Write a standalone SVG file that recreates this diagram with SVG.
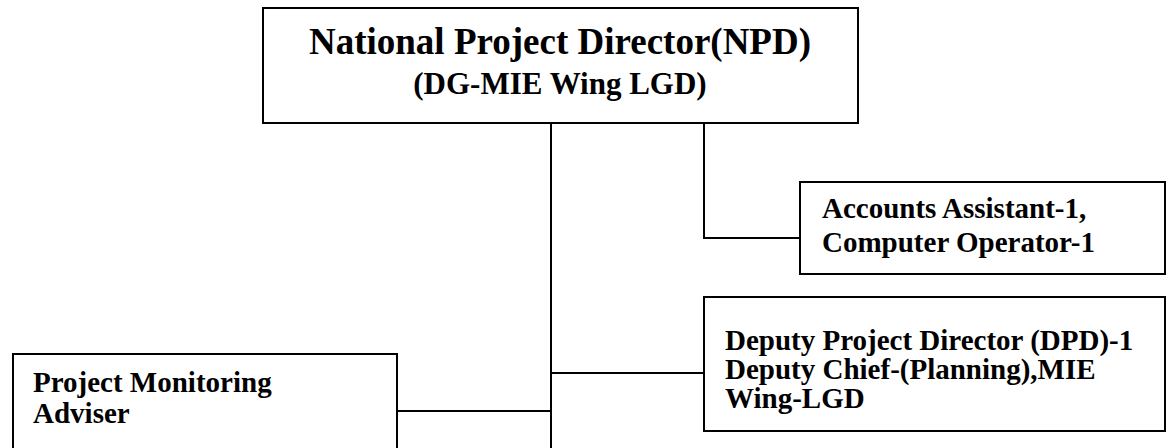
<svg xmlns="http://www.w3.org/2000/svg" width="1173" height="448" viewBox="0 0 1173 448">
<style>
.box{fill:#fff;stroke:#000;stroke-width:2}
.ln{fill:none;stroke:#000;stroke-width:2}
text{font-family:"Liberation Serif","Times New Roman",serif;font-weight:bold;fill:#000}
.t{font-size:29px}
</style>
<rect width="1173" height="448" fill="#fff"/>
<g id="connectors">
<line class="ln" x1="551" y1="123" x2="551" y2="449"/>
<polyline class="ln" points="704,123 704,238 800,238"/>
<line class="ln" x1="551" y1="373" x2="704" y2="373"/>
<line class="ln" x1="397" y1="411" x2="551" y2="411"/>
</g>
<g id="npd">
<rect class="box" x="263" y="8" width="595" height="115"/>
<text x="560" y="54" font-size="37" text-anchor="middle">National Project Director(NPD)</text>
<text x="560" y="94" font-size="31" text-anchor="middle">(DG-MIE Wing LGD)</text>
</g>
<g id="accounts">
<rect class="box" x="800" y="182" width="365" height="92"/>
<text class="t" x="822" y="218">Accounts Assistant-1,</text>
<text class="t" x="822" y="252">Computer Operator-1</text>
</g>
<g id="dpd">
<rect class="box" x="704" y="297" width="461" height="134"/>
<text class="t" x="725" y="350">Deputy Project Director (DPD)-1</text>
<text class="t" x="725" y="379">Deputy Chief-(Planning),MIE</text>
<text class="t" x="725" y="408">Wing-LGD</text>
</g>
<g id="pma">
<rect class="box" x="13" y="354" width="384" height="110"/>
<text class="t" x="33" y="392">Project Monitoring</text>
<text class="t" x="33" y="423">Adviser</text>
</g>
</svg>
